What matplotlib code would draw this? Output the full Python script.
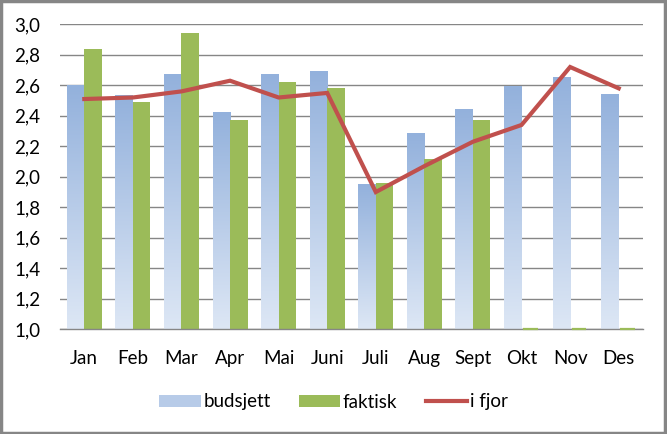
import matplotlib
matplotlib.use("Agg")
import matplotlib.pyplot as plt
import numpy as np
from matplotlib.ticker import FuncFormatter, MultipleLocator
from matplotlib.patches import Patch, Rectangle
from matplotlib.lines import Line2D
from matplotlib.colors import LinearSegmentedColormap

months = ["Jan", "Feb", "Mar", "Apr", "Mai", "Juni", "Juli", "Aug", "Sept", "Okt", "Nov", "Des"]
budsjett = [2.60, 2.53, 2.67, 2.42, 2.67, 2.69, 1.95, 2.28, 2.44, 2.59, 2.65, 2.54]
faktisk = [2.84, 2.49, 2.94, 2.37, 2.62, 2.58, 1.96, 2.12, 2.37, 0.0, 0.0, 0.0]
i_fjor = [2.51, 2.52, 2.56, 2.63, 2.52, 2.55, 1.90, 2.07, 2.23, 2.34, 2.72, 2.58]

plt.rcParams['font.family'] = ['Lato', 'DejaVu Sans']

YMIN, YMAX = 1.0, 3.0
fig = plt.figure(figsize=(6.67, 4.34), dpi=100)
ax = fig.add_axes([60/667, 1 - 329.3/434, (643 - 60)/667, (329.3 - 24.3)/434])

x = np.arange(len(months))
w = 0.36
blue_top = "#93b1dc"
blue_bot = "#dde7f5"
green = "#9bbb59"
red = "#c0504d"
grid_c = "#868686"

cmap = LinearSegmentedColormap.from_list("g", [blue_bot, blue_top])
grad = np.linspace(0, 1, 256).reshape(-1, 1)

for xi, v in zip(x, budsjett):
    ax.imshow(grad, extent=(xi - w, xi, YMIN, v), origin="lower", cmap=cmap,
              aspect="auto", zorder=2, interpolation="bicubic")

fv = np.array(faktisk)
heights = np.maximum(fv - YMIN, 0)
ax.bar(x + w / 2, heights, width=w, bottom=YMIN, color=green,
       edgecolor="none", linewidth=0, zorder=2)
# empty months shown as a thin line at the axis base
for xi, h in zip(x, heights):
    if h == 0:
        ax.plot([xi + 0.03, xi + w - 0.03], [YMIN, YMIN], color=green, linewidth=1.6,
                zorder=4, clip_on=False, solid_capstyle="butt")

ax.plot(x, i_fjor, color=red, linewidth=3.0, zorder=3, solid_joinstyle="miter")

ax.set_xlim(-0.5, len(months) - 0.5)
ax.set_ylim(YMIN, YMAX)
ax.yaxis.set_major_locator(MultipleLocator(0.2))
ax.yaxis.set_major_formatter(FuncFormatter(lambda v, p: f"{v:.1f}".replace(".", ",")))
ax.set_xticks(x)
ax.set_xticklabels(months)
ax.grid(axis="y", color=grid_c, linewidth=1.0, zorder=0)
ax.set_axisbelow(True)
for s in ["top", "right", "left"]:
    ax.spines[s].set_visible(False)
ax.spines["bottom"].set_color(grid_c)
ax.spines["bottom"].set_linewidth(1.0)
ax.tick_params(axis="both", length=0, labelsize=13.5, colors="black")
ax.tick_params(axis="y", pad=14)
ax.tick_params(axis="x", pad=15)

handles = [Patch(facecolor="#b7cbe8", edgecolor="none"),
           Patch(facecolor=green, edgecolor="none"),
           Line2D([0], [0], color=red, linewidth=3.0)]
fig.legend(handles, ["budsjett", "faktisk", "i fjor"], loc="center",
           bbox_to_anchor=(0.5, 1 - 402/434), ncol=3, frameon=False,
           fontsize=13.5, handlelength=2.2, handleheight=0.55, handletextpad=0.15,
           columnspacing=1.5)

fig.patches.append(Rectangle((0.002, 0.003), 0.995, 0.994, transform=fig.transFigure,
                             fill=False, edgecolor="#868686", linewidth=2.5))

fig.savefig("out.png", dpi=100)
